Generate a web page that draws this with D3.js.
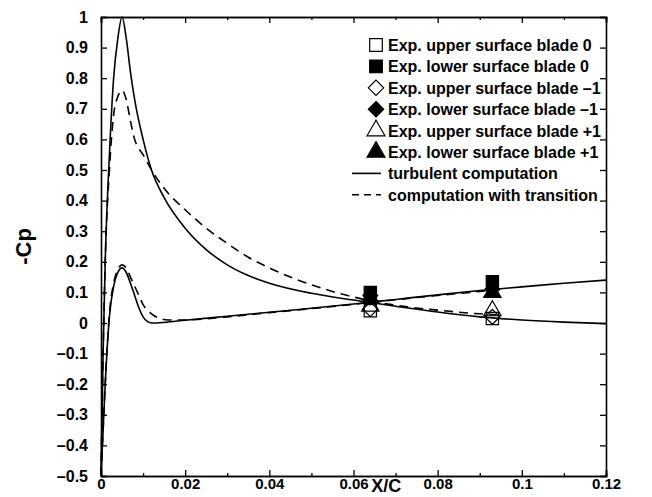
<!DOCTYPE html>
<html>
<head>
<meta charset="utf-8">
<script src="https://cdn.jsdelivr.net/npm/d3@7"></script>
<style>
  body { margin: 0; background: #fff; }
  svg text { font-family: "Liberation Sans", Arial, sans-serif; font-weight: bold; fill: #000; }
</style>
</head>
<body>
<svg id="chart"></svg>
<script>
// ---- data ----
const xTicks = [0, 0.02, 0.04, 0.06, 0.08, 0.1, 0.12];
const yTicks = [-0.5, -0.4, -0.3, -0.2, -0.1, 0, 0.1, 0.2, 0.3, 0.4, 0.5, 0.6, 0.7, 0.8, 0.9, 1];

const turbUpper = [[0,-0.5],[0.0005,-0.1],[0.001,0.2],[0.002,0.55],[0.003,0.8],[0.004,0.93],[0.005,1.0],
  [0.006,0.93],[0.007,0.82],[0.008,0.73],[0.01,0.6],[0.012,0.5],[0.015,0.41],[0.02,0.31],[0.025,0.24],
  [0.03,0.19],[0.035,0.155],[0.04,0.13],[0.05,0.097],[0.06,0.075],[0.07,0.055],[0.08,0.036],[0.09,0.02],
  [0.1,0.01],[0.11,0.003],[0.12,-0.002]];
const turbLower = [[0,-0.5],[0.0005,-0.35],[0.001,-0.2],[0.002,0.02],[0.003,0.12],[0.004,0.165],[0.005,0.18],
  [0.006,0.165],[0.007,0.13],[0.008,0.09],[0.009,0.05],[0.01,0.02],[0.011,0.005],[0.012,0.0],[0.015,0.002],
  [0.02,0.009],[0.03,0.022],[0.04,0.035],[0.05,0.048],[0.06,0.062],[0.07,0.077],[0.08,0.092],[0.09,0.106],
  [0.1,0.118],[0.11,0.13],[0.12,0.14]];
const transUpper = [[0,-0.5],[0.0005,-0.1],[0.001,0.2],[0.002,0.5],[0.003,0.68],[0.004,0.74],[0.005,0.76],
  [0.006,0.73],[0.007,0.66],[0.008,0.6],[0.009,0.57],[0.01,0.55],[0.012,0.5],[0.015,0.44],[0.02,0.37],
  [0.025,0.31],[0.03,0.26],[0.035,0.215],[0.04,0.18],[0.045,0.15],[0.05,0.125],[0.055,0.103],[0.06,0.085],
  [0.065,0.07],[0.07,0.058],[0.08,0.042],[0.09,0.03],[0.094,0.027]];
const transLower = [[0,-0.5],[0.0005,-0.35],[0.001,-0.2],[0.002,0.03],[0.003,0.13],[0.004,0.175],[0.005,0.19],
  [0.006,0.18],[0.007,0.15],[0.008,0.12],[0.009,0.09],[0.01,0.06],[0.012,0.03],[0.014,0.015],[0.016,0.01],
  [0.02,0.01],[0.03,0.02],[0.04,0.034],[0.05,0.047],[0.06,0.061],[0.07,0.076],[0.08,0.09],[0.094,0.108]];

// experiments: stations and -Cp per series
const expX = [0.064, 0.093];
const expUpper0 = [0.04, 0.015];
const expLower0 = [0.10, 0.135];
const expUpperM1 = [0.045, 0.02];
const expLowerM1 = [0.09, 0.11];
const expUpperP1 = [0.055, 0.04];
const expLowerP1 = [0.08, 0.10];

const legendLabels = [
  "Exp. upper surface blade 0",
  "Exp. lower surface blade 0",
  "Exp. upper surface blade \u20131",
  "Exp. lower surface blade \u20131",
  "Exp. upper surface blade +1",
  "Exp. lower surface blade +1",
  "turbulent computation",
  "computation with transition"
];

// ---- layout ----
const width = 652, height = 497;
const margin = {top: 17, right: 46, bottom: 21, left: 101};
const innerW = width - margin.left - margin.right;
const innerH = height - margin.top - margin.bottom;

const svg = d3.select("#chart").attr("width", width).attr("height", height);
const g = svg.append("g").attr("transform", `translate(${margin.left},${margin.top})`);

const x = d3.scaleLinear().domain([0, 0.12]).range([0, innerW]);
const y = d3.scaleLinear().domain([-0.5, 1]).range([innerH, 0]);

// axes, ticks inward on all sides
const fmt = d => d === 0 ? "0" : String(+d.toFixed(2)).replace("-", "\u2013");
const minorX = d3.range(0.01, 0.12, 0.02);

g.append("g").attr("class", "xax").attr("transform", `translate(0,${innerH})`)
  .call(d3.axisBottom(x).tickValues(xTicks).tickSize(-6).tickPadding(2).tickFormat(fmt));
g.append("g").attr("transform", `translate(0,${innerH})`)
  .call(d3.axisBottom(x).tickValues(minorX).tickSize(-3).tickFormat(""));
g.append("g")
  .call(d3.axisTop(x).tickValues(xTicks).tickSize(-6).tickFormat(""));
g.append("g")
  .call(d3.axisTop(x).tickValues(minorX).tickSize(-3).tickFormat(""));
g.append("g")
  .call(d3.axisLeft(y).tickValues(yTicks).tickSize(-6).tickPadding(13).tickFormat(fmt));
g.append("g").attr("transform", `translate(${innerW},0)`)
  .call(d3.axisRight(y).tickValues(yTicks).tickSize(-6).tickFormat(""));

g.selectAll(".domain").attr("stroke", "#000").attr("stroke-width", 1.6);
g.selectAll(".tick line").attr("stroke", "#000").attr("stroke-width", 1.3);
g.selectAll(".tick text").style("font-size", "16px").style("font-family", "Liberation Sans, Arial, sans-serif")
  .style("font-weight", "bold").attr("fill", "#000");
g.selectAll(".xax .tick text").style("font-size", "15px");

// axis titles
svg.append("text")
  .attr("x", margin.left + x(0.0678)).attr("y", 492)
  .attr("text-anchor", "middle").style("font-size", "18px")
  .text("X/C");
svg.append("text")
  .attr("transform", `translate(31,${margin.top + y(0.25)}) rotate(-90)`)
  .attr("text-anchor", "middle").style("font-size", "22px")
  .text("-Cp");

// curves
const line = d3.line().x(d => x(d[0])).y(d => y(d[1])).curve(d3.curveMonotoneX);
const curves = [
  {data: turbUpper, dash: null},
  {data: turbLower, dash: null},
  {data: transUpper, dash: "9,6"},
  {data: transLower, dash: "9,6"}
];
g.selectAll("path.curve").data(curves).enter().append("path")
  .attr("class", "curve")
  .attr("d", d => line(d.data))
  .attr("fill", "none").attr("stroke", "#000").attr("stroke-width", 1.6)
  .attr("stroke-dasharray", d => d.dash);

// experimental markers
const series = [
  {vals: expUpper0, type: d3.symbolSquare, size: 150, filled: false},
  {vals: expLower0, type: d3.symbolSquare, size: 150, filled: true},
  {vals: expUpperM1, type: d3.symbolDiamond2, size: 140, filled: false},
  {vals: expLowerM1, type: d3.symbolDiamond2, size: 140, filled: true},
  {vals: expUpperP1, type: d3.symbolTriangle, size: 130, filled: false},
  {vals: expLowerP1, type: d3.symbolTriangle, size: 130, filled: true}
];
series.forEach(s => {
  g.selectAll(null).data(s.vals).enter().append("path")
    .attr("transform", (v, i) => `translate(${x(expX[i])},${y(v)})`)
    .attr("d", d3.symbol().type(s.type).size(s.size))
    .attr("fill", s.filled ? "#000" : "none")
    .attr("stroke", "#000").attr("stroke-width", 1.2);
});

// legend
const legend = svg.append("g").attr("transform", "translate(376,45)");
const rowH = 21.4;
legendLabels.forEach((lab, i) => {
  const row = legend.append("g").attr("transform", `translate(0,${i * rowH})`);
  if (i < 6) {
    const s = series[i];
    row.append("path")
      .attr("d", d3.symbol().type(s.type).size(s.size + 10))
      .attr("fill", s.filled ? "#000" : "#fff")
      .attr("stroke", "#000").attr("stroke-width", 1.2);
  } else {
    row.append("line").attr("x1", -24).attr("x2", 5).attr("y1", 0).attr("y2", 0)
      .attr("stroke", "#000").attr("stroke-width", 1.6)
      .attr("stroke-dasharray", i === 7 ? "7,5" : null);
  }
  row.append("text").attr("x", 12).attr("y", 6).style("font-size", "16px").text(lab);
});
</script>
</body>
</html>
